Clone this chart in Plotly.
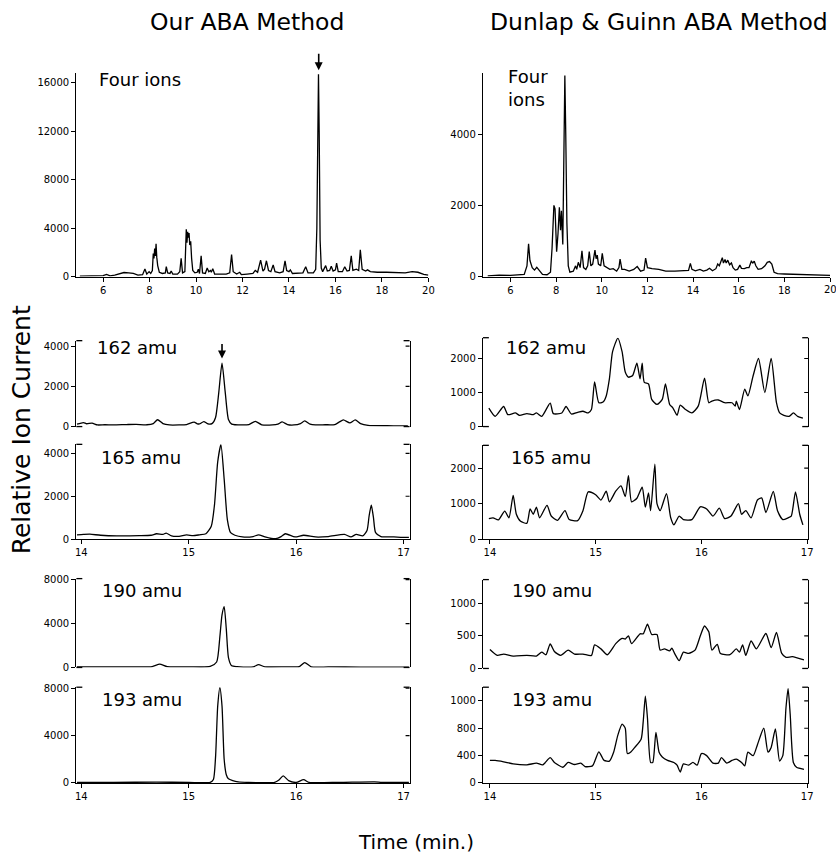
import plotly.graph_objects as go

W, H = 836, 865
FONT = "DejaVu Sans"

# ---------------- total ion traces (time in min, relative ion current) ----------------
OURS_ALL_T = [5.0, 5.5, 6.0, 6.15, 6.3, 6.5, 6.7, 6.9, 7.1, 7.3, 7.5, 7.7, 7.8, 7.88, 7.98, 8.05,
              8.12, 8.16, 8.19, 8.22, 8.25, 8.28, 8.31, 8.35, 8.42, 8.55, 8.68, 8.72, 8.78, 8.88,
              8.93, 9.0, 9.2, 9.3, 9.36, 9.42, 9.52, 9.58, 9.61, 9.64, 9.67, 9.7, 9.73, 9.77, 9.81,
              9.86, 9.95, 10.05, 10.1, 10.15, 10.22, 10.28, 10.4, 10.48, 10.55, 10.62, 10.66, 10.72,
              10.8, 11.0, 11.3, 11.45, 11.53, 11.6, 11.75, 11.88, 11.95, 12.2, 12.45, 12.55, 12.65,
              12.78, 12.88, 12.95, 13.03, 13.12, 13.22, 13.32, 13.4, 13.6, 13.75, 13.83, 13.9, 14.0,
              14.06, 14.15, 14.4, 14.6, 14.72, 14.82, 15.05, 15.15, 15.2, 15.24, 15.27, 15.3, 15.34,
              15.39, 15.45, 15.58, 15.65, 15.75, 15.82, 15.9, 16.0, 16.05, 16.12, 16.3, 16.4, 16.5,
              16.6, 16.68, 16.75, 16.9, 17.0, 17.07, 17.15, 17.3, 17.38, 17.5, 17.8, 18.2, 18.6,
              19.0, 19.3, 19.55, 19.8, 20.0]
OURS_ALL_I = [30, 40, 80, 180, 60, 120, 250, 330, 300, 250, 120, 150, 620, 200, 400, 250,
              500, 1900, 1500, 2300, 1700, 2700, 1600, 900, 350, 250, 300, 820, 300, 250,
              450, 200, 200, 400, 1500, 300, 400, 3900, 2800, 3700, 3200, 3600, 2600, 2900, 1500,
              500, 300, 350, 600, 250, 1700, 300, 250, 700, 400, 500, 350, 650,
              200, 180, 200, 300, 1820, 400, 200, 350, 150, 200, 250, 500, 350,
              1350, 450, 600, 1300, 500, 400, 950, 400, 300, 400, 1300, 500, 400,
              550, 250, 250, 300, 800, 300, 300, 600, 4000, 14000, 16700, 12000, 3000,
              700, 400, 900, 450, 500, 850, 450, 550, 1100, 400, 400, 800, 450,
              500, 1700, 500, 600, 500, 2200, 600, 450, 550, 400, 350, 350, 300,
              300, 400, 350, 180, 120]

DUNLAP_ALL_T = [5.0, 5.5, 6.0, 6.4, 6.6, 6.72, 6.79, 6.85, 6.95, 7.05, 7.15, 7.25, 7.4, 7.6, 7.75,
                7.82, 7.9, 7.95, 8.02, 8.08, 8.14, 8.19, 8.23, 8.29, 8.33, 8.38, 8.42, 8.47, 8.53,
                8.6, 8.75, 8.85, 8.9, 8.97, 9.05, 9.13, 9.2, 9.3, 9.38, 9.45, 9.52, 9.6, 9.7, 9.75,
                9.8, 9.85, 9.95, 10.02, 10.1, 10.2, 10.35, 10.5, 10.65, 10.75, 10.8, 10.88, 11.0,
                11.2, 11.4, 11.55, 11.7, 11.85, 11.92, 12.0, 12.2, 12.5, 12.8, 13.2, 13.6, 13.8,
                13.88, 13.95, 14.1, 14.3, 14.45, 14.6, 14.72, 14.85, 15.0, 15.08, 15.15, 15.22,
                15.28, 15.33, 15.4, 15.45, 15.52, 15.6, 15.68, 15.75, 15.85, 15.95, 16.05, 16.12,
                16.25, 16.35, 16.45, 16.55, 16.62, 16.68, 16.75, 16.85, 17.0, 17.15, 17.25, 17.35,
                17.45, 17.55, 17.7, 18.0, 18.5, 19.0, 19.5, 20.0]
DUNLAP_ALL_I = [20, 40, 30, 40, 60, 300, 920, 450, 250, 180, 260, 180, 60, 50, 120,
                800, 2000, 1900, 700, 1200, 1950, 1300, 1850, 900, 2500, 5650, 4000, 1500, 300,
                120, 150, 300, 200, 400, 250, 720, 250, 200, 300, 700, 300, 350, 740, 500,
                600, 350, 300, 650, 300, 250, 200, 220, 150, 250, 490, 200, 200,
                150, 200, 280, 150, 180, 520, 250, 220, 200, 150, 150, 150, 170,
                370, 200, 160, 200, 150, 180, 230, 160, 220, 350, 300, 450,
                530, 380, 480, 380, 460, 330, 380, 250, 180, 200, 320, 230,
                220, 250, 250, 430, 380, 430, 300, 200, 220, 300, 400, 420,
                350, 120, 80, 70, 60, 50, 40, 30]

# ---------------- single-ion traces, 14-17 min: (time, intensity) ----------------
OURS_162 = [(13.96, 120), (14.02, 200), (14.05, 140), (14.1, 170), (14.15, 80), (14.22, 90),
            (14.3, 80), (14.42, 100), (14.51, 110), (14.61, 90), (14.67, 150), (14.71, 340),
            (14.76, 150), (14.82, 80), (14.91, 80), (14.98, 100), (15.05, 220), (15.08, 140),
            (15.1, 130), (15.14, 250), (15.18, 130), (15.22, 160), (15.25, 450), (15.28, 1700),
            (15.31, 3150), (15.34, 1700), (15.37, 350), (15.4, 120), (15.5, 80), (15.56, 100),
            (15.62, 260), (15.68, 90), (15.78, 80), (15.83, 120), (15.87, 230), (15.92, 100),
            (15.98, 80), (16.04, 150), (16.08, 280), (16.13, 120), (16.18, 80), (16.27, 90),
            (16.36, 100), (16.4, 220), (16.44, 330), (16.5, 180), (16.55, 330), (16.6, 150),
            (16.67, 60), (16.85, 40), (16.97, 30), (17.04, 30)]
OURS_165 = [(13.96, 200), (14.02, 220), (14.08, 230), (14.18, 180), (14.33, 150), (14.54, 160),
            (14.65, 180), (14.7, 250), (14.76, 220), (14.79, 280), (14.84, 150), (14.91, 130),
            (14.98, 200), (15.04, 160), (15.1, 200), (15.16, 250), (15.21, 600), (15.24, 1600),
            (15.27, 3600), (15.3, 4400), (15.33, 2800), (15.36, 900), (15.39, 300), (15.43, 180),
            (15.5, 100), (15.6, 120), (15.65, 200), (15.71, 100), (15.77, 30), (15.81, 20),
            (15.86, 120), (15.9, 250), (15.99, 100), (16.07, 180), (16.18, 100), (16.3, 120),
            (16.45, 220), (16.51, 100), (16.56, 220), (16.62, 150), (16.66, 400), (16.68, 1100),
            (16.7, 1580), (16.72, 1000), (16.74, 300), (16.79, 120), (16.91, 100), (16.99, 80),
            (17.05, 80)]
OURS_190 = [(13.96, 60), (14.2, 50), (14.5, 50), (14.66, 80), (14.73, 300), (14.8, 70),
            (15.0, 60), (15.2, 90), (15.26, 500), (15.29, 2800), (15.31, 4800), (15.33, 5550),
            (15.35, 3500), (15.37, 900), (15.4, 150), (15.45, 80), (15.6, 60), (15.65, 250),
            (15.71, 60), (15.9, 60), (16.03, 80), (16.08, 450), (16.14, 60), (16.3, 50),
            (16.6, 40), (17.05, 30)]
OURS_193 = [(13.96, 50), (14.3, 50), (14.7, 70), (15.0, 50), (15.2, 50), (15.23, 300),
            (15.25, 2200), (15.27, 6500), (15.29, 8050), (15.31, 6500), (15.33, 2000),
            (15.35, 700), (15.37, 350), (15.41, 200), (15.46, 100), (15.55, 50), (15.8, 50),
            (15.84, 250), (15.88, 600), (15.93, 200), (16.0, 50), (16.07, 280), (16.12, 50),
            (16.4, 50), (16.73, 100), (16.8, 50), (17.05, 50)]

DUNLAP_162 = [(13.99, 540), (14.05, 300), (14.13, 590), (14.17, 350), (14.24, 400), (14.28, 330),
              (14.35, 380), (14.41, 350), (14.44, 400), (14.49, 300), (14.57, 690), (14.6, 380),
              (14.68, 400), (14.72, 590), (14.77, 370), (14.83, 420), (14.88, 450), (14.93, 400),
              (14.96, 500), (14.99, 1310), (15.03, 700), (15.07, 720), (15.1, 900), (15.13, 1400),
              (15.16, 2200), (15.21, 2600), (15.25, 2200), (15.28, 1600), (15.31, 1450),
              (15.35, 1500), (15.39, 1860), (15.42, 1400), (15.44, 1860), (15.46, 1300),
              (15.5, 1250), (15.53, 800), (15.58, 650), (15.63, 800), (15.66, 1250), (15.7, 650),
              (15.73, 550), (15.77, 330), (15.8, 630), (15.85, 500), (15.91, 400), (15.97, 600),
              (16.03, 1420), (16.07, 700), (16.1, 750), (16.16, 780), (16.22, 700), (16.29, 700),
              (16.32, 600), (16.33, 750), (16.36, 500), (16.41, 1100), (16.44, 900),
              (16.49, 1500), (16.54, 2000), (16.6, 1000), (16.66, 2000), (16.71, 700),
              (16.74, 400), (16.78, 330), (16.83, 300), (16.87, 400), (16.91, 300), (16.96, 250)]
DUNLAP_165 = [(13.99, 580), (14.03, 600), (14.08, 540), (14.14, 790), (14.18, 600), (14.22, 1230),
              (14.25, 700), (14.29, 500), (14.35, 450), (14.38, 850), (14.41, 700), (14.44, 900),
              (14.47, 600), (14.54, 950), (14.58, 650), (14.64, 530), (14.71, 800), (14.75, 550),
              (14.83, 520), (14.88, 800), (14.93, 1330), (15.0, 1250), (15.05, 1100), (15.1, 1350),
              (15.13, 1050), (15.19, 1350), (15.24, 1500), (15.28, 1200), (15.31, 1790),
              (15.34, 1050), (15.39, 1150), (15.44, 1460), (15.47, 900), (15.5, 1300),
              (15.52, 800), (15.56, 2110), (15.58, 1000), (15.61, 800), (15.67, 1280),
              (15.71, 600), (15.74, 400), (15.79, 650), (15.83, 550), (15.91, 550), (15.99, 910),
              (16.05, 850), (16.11, 650), (16.17, 870), (16.22, 580), (16.28, 650), (16.35, 1000),
              (16.38, 700), (16.42, 800), (16.47, 600), (16.53, 1100), (16.57, 1160),
              (16.61, 750), (16.68, 1340), (16.72, 800), (16.77, 550), (16.82, 600),
              (16.85, 650), (16.89, 1330), (16.93, 700), (16.96, 400)]
DUNLAP_190 = [(14.0, 290), (14.07, 200), (14.13, 220), (14.22, 190), (14.35, 200), (14.44, 190),
              (14.49, 250), (14.53, 210), (14.57, 375), (14.61, 260), (14.67, 200), (14.74, 280),
              (14.8, 220), (14.88, 220), (14.96, 200), (14.99, 360), (15.05, 300), (15.11, 210),
              (15.19, 380), (15.25, 460), (15.28, 450), (15.31, 500), (15.34, 380), (15.42, 530),
              (15.45, 530), (15.49, 680), (15.53, 520), (15.58, 520), (15.61, 280), (15.65, 300),
              (15.7, 270), (15.72, 310), (15.75, 220), (15.79, 120), (15.83, 250), (15.88, 230),
              (15.94, 280), (15.99, 500), (16.03, 650), (16.07, 560), (16.1, 280), (16.15, 370),
              (16.18, 230), (16.27, 210), (16.33, 300), (16.36, 250), (16.39, 360), (16.42, 200),
              (16.47, 420), (16.52, 300), (16.61, 535), (16.66, 320), (16.71, 550), (16.76, 230),
              (16.8, 170), (16.86, 180), (16.97, 130)]
DUNLAP_193 = [(14.0, 330), (14.05, 330), (14.13, 310), (14.22, 280), (14.35, 265), (14.44, 290),
              (14.5, 265), (14.57, 370), (14.61, 300), (14.69, 230), (14.74, 300), (14.8, 270),
              (14.86, 290), (14.9, 240), (14.97, 250), (15.03, 455), (15.08, 330), (15.13, 320),
              (15.17, 450), (15.21, 700), (15.25, 860), (15.28, 800), (15.3, 430), (15.33, 450),
              (15.37, 520), (15.43, 640), (15.45, 900), (15.47, 1270), (15.49, 950), (15.52, 300),
              (15.54, 300), (15.57, 740), (15.6, 450), (15.63, 380), (15.68, 330), (15.74, 300),
              (15.77, 260), (15.8, 160), (15.83, 280), (15.88, 260), (15.92, 300), (15.96, 260),
              (16.0, 430), (16.05, 400), (16.11, 290), (16.16, 290), (16.19, 370), (16.24, 290),
              (16.29, 330), (16.33, 350), (16.38, 300), (16.41, 250), (16.44, 450), (16.49, 400),
              (16.53, 560), (16.59, 800), (16.63, 450), (16.66, 520), (16.7, 790), (16.74, 320),
              (16.77, 400), (16.8, 1100), (16.82, 1380), (16.84, 1000), (16.87, 300), (16.9, 230),
              (16.97, 200)]

TOP_X_TICKS = [6, 8, 10, 12, 14, 16, 18, 20]
ZOOM_X_TICKS = [14, 15, 16, 17]


def xdom(a, b):
    return [a / W, min(b / W, 1.0)]


def ydom(top, bottom):
    return [1 - bottom / H, 1 - top / H]


def unzip(pairs):
    return [p[0] for p in pairs], [p[1] for p in pairs]


# kind: "top" = overview, "zoomx" = zoomed panel with a labelled time axis,
# "zoom" = zoomed panel without a time axis
panels = [
    dict(t=OURS_ALL_T, i=OURS_ALL_I, xd=(76, 431), yd=(69, 275), xr=(4.85, 20.0), yr=(0, 16800),
         yt=[0, 4000, 8000, 12000, 16000], ytt=None, kind="top", shape="linear"),
    dict(t=DUNLAP_ALL_T, i=DUNLAP_ALL_I, xd=(486, 836), yd=(69, 275), xr=(4.79, 20.0), yr=(0, 5720),
         yt=[0, 2000, 4000], ytt=None, kind="top", shape="linear"),
]
for pairs, yd, yr, yt, ytt, kind in [
    (OURS_162, (340, 427), (0, 4270), [0, 2000, 4000], None, "zoom"),
    (OURS_165, (445, 541), (0, 4420), [0, 2000, 4000], None, "zoomx"),
    (OURS_190, (581, 671), (0, 8100), [0, 4000, 8000], None, "zoom"),
    (OURS_193, (691, 788), (0, 8080), [0, 4000, 8000], None, "zoomx"),
]:
    t, i = unzip(pairs)
    panels.append(dict(t=t, i=i, xd=(76, 412), yd=yd, xr=(13.954, 17.056), yr=yr, yt=yt, ytt=ytt,
                       kind=kind, shape="spline"))
for pairs, yd, yr, yt, ytt, kind in [
    (DUNLAP_162, (337, 427), (0, 2610), [0, 1000, 2000], None, "zoom"),
    (DUNLAP_165, (446, 541), (0, 2640), [0, 1000, 2000], None, "zoomx"),
    (DUNLAP_190, (582, 672), (0, 1360), [0, 500, 1000], None, "zoom"),
    (DUNLAP_193, (691, 788), (0, 1400), [0, 400, 800, 1200], ["0", "400", "800", "1000"], "zoomx"),
]:
    t, i = unzip(pairs)
    panels.append(dict(t=t, i=i, xd=(486, 814), yd=yd, xr=(13.934, 17.01), yr=yr, yt=yt, ytt=ytt,
                       kind=kind, shape="spline"))

tickfont = dict(family=FONT, size=10, color="black")
LW = 1.3

fig = go.Figure()
layout = {}
shapes = []

for n, p in enumerate(panels, start=1):
    sx = "" if n == 1 else str(n)
    fig.add_trace(go.Scatter(
        x=p["t"], y=p["i"], mode="lines", xaxis="x" + sx, yaxis="y" + sx,
        line=dict(color="black", width=1.3, shape=p["shape"], smoothing=0.6),
        hoverinfo="skip", showlegend=False))

    xa = dict(domain=xdom(*p["xd"]), range=list(p["xr"]), anchor="y" + sx,
              showgrid=False, zeroline=False, tickfont=tickfont)
    if p["kind"] == "zoom":
        xa.update(showline=False, showticklabels=False, ticks="")
    else:
        xv = TOP_X_TICKS if p["kind"] == "top" else ZOOM_X_TICKS
        xa.update(showline=True, linecolor="black", linewidth=LW, ticks="outside", ticklen=4,
                  tickwidth=1.2, tickcolor="black", tickvals=xv, ticktext=[str(v) for v in xv])
    ya = dict(domain=ydom(*p["yd"]), range=list(p["yr"]), anchor="x" + sx,
              showgrid=False, zeroline=False, showline=True, linecolor="black", linewidth=LW,
              ticks="outside", ticklen=4, tickwidth=1.2, tickcolor="black",
              tickvals=p["yt"], ticktext=p["ytt"] or [str(v) for v in p["yt"]],
              tickfont=tickfont)
    if p["kind"] != "top":
        ya["mirror"] = True
    layout["xaxis" + sx] = xa
    layout["yaxis" + sx] = ya

    if p["kind"] != "top":
        wpx = p["xd"][1] - p["xd"][0]
        stub = 6 / wpx
        xref_d = "x" + sx + " domain"
        yref_d = "y" + sx + " domain"
        line = dict(color="black", width=LW)
        # bracket stubs at the top corners
        shapes.append(dict(type="line", xref=xref_d, yref=yref_d, x0=0, x1=stub, y0=1, y1=1, line=line))
        shapes.append(dict(type="line", xref=xref_d, yref=yref_d, x0=1 - stub, x1=1, y0=1, y1=1, line=line))
        if p["kind"] == "zoom":
            shapes.append(dict(type="line", xref=xref_d, yref=yref_d, x0=0, x1=stub, y0=0, y1=0, line=line))
            shapes.append(dict(type="line", xref=xref_d, yref=yref_d, x0=1 - stub, x1=1, y0=0, y1=0, line=line))
        # inward ticks on the right-hand frame line
        for tv in p["yt"][1:]:
            shapes.append(dict(type="line", xref=xref_d, yref="y" + sx, x0=1, x1=1 - 4 / wpx,
                               y0=tv, y1=tv, line=dict(color="black", width=1.2)))

ann = []


def label(text, x, y, size=18, xanchor="left"):
    ann.append(dict(text=text, x=x / W, y=1 - y / H, xref="paper", yref="paper",
                    xanchor=xanchor, yanchor="middle", showarrow=False,
                    font=dict(family=FONT, size=size, color="black"), align="left"))


# column headings
label("Our ABA Method", 248, 17, size=23.5, xanchor="center")
label("Dunlap &amp; Guinn ABA Method", 664, 17, size=23.5, xanchor="center")

# panel labels
label("Four ions", 97, 75)
label("Four<br>ions", 509, 84)
for txt, xl, xr_, y in [("162 amu", 95, 507, 347), ("165 amu", 99, 512, 458),
                        ("190 amu", 100, 513, 593), ("193 amu", 100, 513, 703)]:
    label(txt, xl, y)
    label(txt, xr_, y)

# last time label of the right overview axis, at the page edge
ann.append(dict(text="20", x=20, y=1 - 288 / H, xref="x2", yref="paper", xanchor="center",
                yanchor="middle", showarrow=False, font=tickfont))

# shared axis titles
label("Time (min.)", 419, 848, size=20, xanchor="center")
ann.append(dict(text="Relative Ion Current", x=21 / W, y=1 - 430 / H, xref="paper", yref="paper",
                xanchor="center", yanchor="middle", textangle=-90, showarrow=False,
                font=dict(family=FONT, size=25, color="black")))

# arrows marking the ABA peak
ann.append(dict(text="", x=15.28, y=1 - 66 / H, xref="x", yref="paper", ax=0, ay=-18,
                showarrow=True, arrowhead=2, arrowsize=1, arrowwidth=1.6, arrowcolor="black"))
ann.append(dict(text="", x=15.31, y=1 - 358 / H, xref="x3", yref="paper", ax=0, ay=-16,
                showarrow=True, arrowhead=2, arrowsize=1, arrowwidth=1.6, arrowcolor="black"))

fig.update_layout(
    width=W, height=H, margin=dict(l=0, r=0, t=0, b=0),
    paper_bgcolor="white", plot_bgcolor="white",
    annotations=ann, shapes=shapes, showlegend=False,
    **layout)

fig.write_html("out.html")
